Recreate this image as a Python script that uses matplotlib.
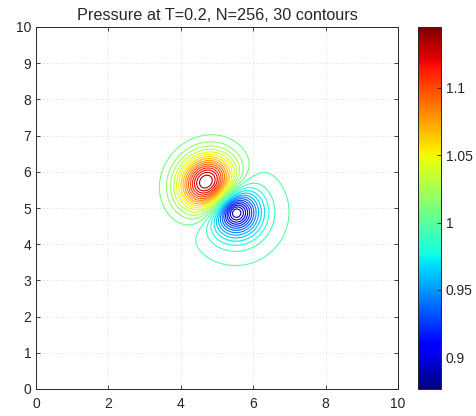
import numpy as np
import matplotlib
matplotlib.use("Agg")
import matplotlib.pyplot as plt
from matplotlib.colors import Normalize
from matplotlib.cm import ScalarMappable

plt.rcParams['font.family'] = ['Liberation Sans', 'DejaVu Sans']

# grid and contour settings
N = 256
n_contours = 30
t_final = 0.2
domain = [0.0, 10.0]

# pressure blobs: centre x, centre y, amplitude, width along axis, width across,
# axis angle (deg), radial profile power (2 = gaussian)
blob_x = [4.73, 5.51]
blob_y = [5.69, 4.89]
blob_amp = [0.154, -0.136]
blob_a = [0.78, 0.61]
blob_b = [0.71, 0.61]
blob_angle = [48.0, 0.0]
blob_power = [2.0, 1.6]
p_background = 1.0

x = np.linspace(domain[0], domain[1], N)
y = np.linspace(domain[0], domain[1], N)
X, Y = np.meshgrid(x, y)

P = np.full_like(X, p_background)
for cx, cy, A, a, b, ang, pw in zip(blob_x, blob_y, blob_amp, blob_a, blob_b, blob_angle, blob_power):
    th = np.deg2rad(ang)
    u = (X - cx) * np.cos(th) + (Y - cy) * np.sin(th)
    v = -(X - cx) * np.sin(th) + (Y - cy) * np.cos(th)
    r2 = (u / a)**2 + (v / b)**2
    P += A * np.exp(-r2**(pw / 2))

pmin, pmax = P.min(), P.max()
levels = np.linspace(pmin, pmax, n_contours + 2)[1:-1]
norm = Normalize(vmin=pmin, vmax=pmax)

fig = plt.figure(figsize=(4.76, 4.16), dpi=100)
ax = fig.add_axes([36 / 476, 1 - 389 / 416, 362 / 476, 362 / 416])
cax = fig.add_axes([417.5 / 476, 1 - 389 / 416, 23.3 / 476, 362 / 416])

ax.contour(X, Y, P, levels=levels, cmap='jet', norm=norm, linewidths=0.8)
ax.set_xlim(domain)
ax.set_ylim(domain)
ax.set_xticks(np.arange(0, 11, 2))
ax.set_yticks(np.arange(0, 11, 1))
ax.grid(True, linestyle=(0, (1, 3)), color='#d0d0d0', linewidth=0.6)
ax.tick_params(direction='in', top=True, right=True, labelsize=10, colors='#262626',
               length=3, width=0.6)
ax.tick_params(axis='x', pad=6)
for s in ax.spines.values():
    s.set_color('#262626')
    s.set_linewidth(0.7)
ax.set_title(f"Pressure at T={t_final}, N={N}, {n_contours} contours", fontsize=11.7, color='#262626', pad=5)

cb = fig.colorbar(ScalarMappable(norm=norm, cmap='jet'), cax=cax)
cb.set_ticks([0.9, 0.95, 1.0, 1.05, 1.1])
cb.set_ticklabels(['0.9', '0.95', '1', '1.05', '1.1'])
cax.tick_params(direction='in', labelsize=10, colors='#262626', length=3, width=0.6)
cb.outline.set_edgecolor('#262626')
cb.outline.set_linewidth(0.7)

fig.savefig('out.png', dpi=100)
